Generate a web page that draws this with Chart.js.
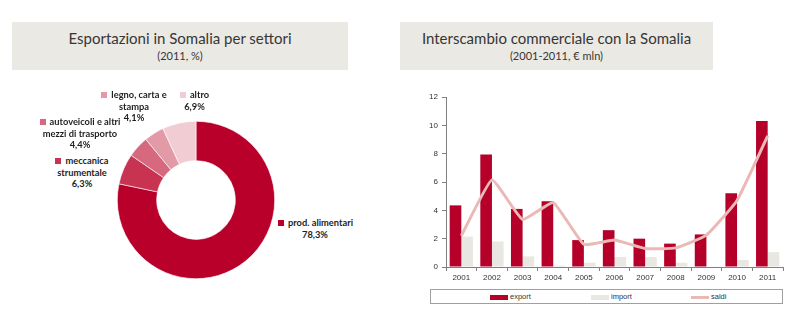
<!DOCTYPE html>
<html>
<head>
<meta charset="utf-8">
<script src="https://cdn.jsdelivr.net/npm/chart.js@4/dist/chart.umd.min.js"></script>
<style>
  html, body { margin: 0; padding: 0; background: #fff; }
  body { width: 795px; height: 329px; position: relative; overflow: hidden; font-family: Lato, "Open Sans", sans-serif; }
  .head { position: absolute; top: 22px; height: 48px; background: #ebe9e4; color: #363636; text-align: center; }
  .head .t { font-size: 15px; margin-top: 7px; line-height: 18px; }
  .head .s { font-size: 11px; margin-top: 2px; line-height: 13px; }
  #pieWrap { position: absolute; left: 117px; top: 121px; width: 158px; height: 158px; }
  #barWrap { position: absolute; left: 400px; top: 85px; width: 395px; height: 200px; }
  .lbl { position: absolute; font-weight: bold; font-size: 9.3px; line-height: 11.5px; color: #1e1e1e; text-align: center; white-space: nowrap; }
  .lbl i { display: inline-block; width: 6px; height: 6px; margin-right: 4px; vertical-align: 0px; }
  #legend { position: absolute; left: 430px; top: 289px; width: 351px; height: 13px; border: 1px solid #a0a0a0; font-family: Arial, "Liberation Sans", sans-serif; font-size: 7.5px; color: #333; }
  #legend span { position: absolute; top: 3px; line-height: 7px; }
  #legend b { display: inline-block; width: 18px; vertical-align: middle; margin-right: 2px; }
</style>
</head>
<body>
<div class="head" style="left:12px;width:336px;"><div class="t">Esportazioni in Somalia per settori</div><div class="s">(2011, %)</div></div>
<div class="head" style="left:400px;width:313px;"><div class="t">Interscambio commerciale con la Somalia</div><div class="s">(2001-2011, € mln)</div></div>
<div id="pieWrap"><canvas id="pie"></canvas></div>
<div id="barWrap"><canvas id="bar"></canvas></div>
<div id="pieLabels"></div>
<div id="legend"></div>
<script>
// Export shares by sector, 2011 (%)
const sectors = ['prod. alimentari', 'meccanica strumentale', 'autoveicoli e altri mezzi di trasporto', 'legno, carta e stampa', 'altro'];
const sectorShares = [78.3, 6.3, 4.4, 4.1, 6.9];
const sectorColors = ['#b8002b', '#c73350', '#d6697d', '#e29aa7', '#f1ccd2'];

// Trade with Somalia, 2001-2011 (€ mln)
const years = ['2001','2002','2003','2004','2005','2006','2007','2008','2009','2010','2011'];
const exportVals = [4.35, 7.95, 4.1, 4.65, 1.9, 2.6, 2.0, 1.65, 2.3, 5.2, 10.3];
const importVals = [2.15, 1.8, 0.75, 0.1, 0.3, 0.7, 0.7, 0.3, 0.05, 0.5, 1.05];
const saldiVals  = [2.2, 6.15, 3.35, 4.55, 1.6, 1.9, 1.3, 1.35, 2.25, 4.7, 9.25];
const yTicks = [0, 2, 4, 6, 8, 10, 12];

const fmt = v => v.toFixed(1).replace('.', ',') + '%';

new Chart(document.getElementById('pie'), {
  type: 'doughnut',
  data: { labels: sectors, datasets: [{ data: sectorShares, backgroundColor: sectorColors, borderColor: '#ffffff', borderWidth: 0.6 }] },
  options: {
    responsive: true, maintainAspectRatio: false, animation: false,
    cutout: '50%', rotation: 0,
    layout: { padding: 0 },
    plugins: { legend: { display: false }, tooltip: { enabled: false } }
  }
});

// sector labels: left/top of each text block and the lines of the name
const labelSpots = [
  { x: 278, y: 217, lines: ['prod. alimentari'], w: 74 },
  { x: 47,  y: 155, lines: ['meccanica', 'strumentale'], w: 70 },
  { x: 37,  y: 116, lines: ['autoveicoli e altri', 'mezzi di trasporto'], w: 86 },
  { x: 99,  y: 89,  lines: ['legno, carta e', 'stampa'], w: 70 },
  { x: 176, y: 89,  lines: ['altro'], w: 37 }
];
const pl = document.getElementById('pieLabels');
sectors.forEach((name, i) => {
  const s = labelSpots[i];
  const d = document.createElement('div');
  d.className = 'lbl';
  d.style.left = s.x + 'px'; d.style.top = s.y + 'px'; d.style.width = s.w + 'px';
  d.innerHTML = '<div><i style="background:' + sectorColors[i] + '"></i>' + s.lines[0] + '</div>' +
    s.lines.slice(1).map(l => '<div>' + l + '</div>').join('') +
    '<div>' + fmt(sectorShares[i]) + '</div>';
  pl.appendChild(d);
});

const series = [
  { label: 'export', color: '#b5002a' },
  { label: 'import', color: '#e9e7e1' },
  { label: 'saldi',  color: '#ebb9b5' }
];

const tickFont = { family: 'Arial, "Liberation Sans", sans-serif', size: 8 };

new Chart(document.getElementById('bar'), {
  type: 'bar',
  data: {
    labels: years,
    datasets: [
      { type: 'line', label: 'saldi', data: saldiVals, borderColor: series[2].color, borderWidth: 3, pointRadius: 0, tension: 0.12, fill: false, order: 0 },
      { label: 'export', data: exportVals, backgroundColor: series[0].color, categoryPercentage: 0.76, barPercentage: 1, order: 1 },
      { label: 'import', data: importVals, backgroundColor: series[1].color, categoryPercentage: 0.76, barPercentage: 1, order: 1 }
    ]
  },
  options: {
    responsive: true, maintainAspectRatio: false, animation: false,
    layout: { padding: { top: 12, right: 12, left: 0, bottom: 0 } },
    plugins: { legend: { display: false }, tooltip: { enabled: false } },
    scales: {
      x: {
        grid: { display: true, drawOnChartArea: false, drawTicks: true, tickLength: 4, color: '#808080', offset: true },
        border: { display: true, color: '#808080', width: 1 },
        ticks: { color: '#333', font: tickFont, padding: 2, maxRotation: 0 },
        afterFit: s => { s.height = 18; }
      },
      y: {
        min: 0, max: 12,
        afterBuildTicks: s => { s.ticks = yTicks.map(v => ({ value: v })); },
        grid: { display: true, drawOnChartArea: false, drawTicks: true, tickLength: 4, color: '#808080' },
        border: { display: true, color: '#808080', width: 1 },
        ticks: { color: '#333', font: tickFont, padding: 4 },
        afterFit: s => { s.width = 46; }
      }
    }
  }
});

// legend strip under the trade chart
const lg = document.getElementById('legend');
const legendX = [59, 160, 260];
series.forEach((s, i) => {
  const sp = document.createElement('span');
  sp.style.left = legendX[i] + 'px';
  const h = s.label === 'saldi' ? 3 : 5;
  sp.innerHTML = '<b style="height:' + h + 'px;background:' + s.color + '"></b>' + s.label;
  lg.appendChild(sp);
});
</script>
</body>
</html>
